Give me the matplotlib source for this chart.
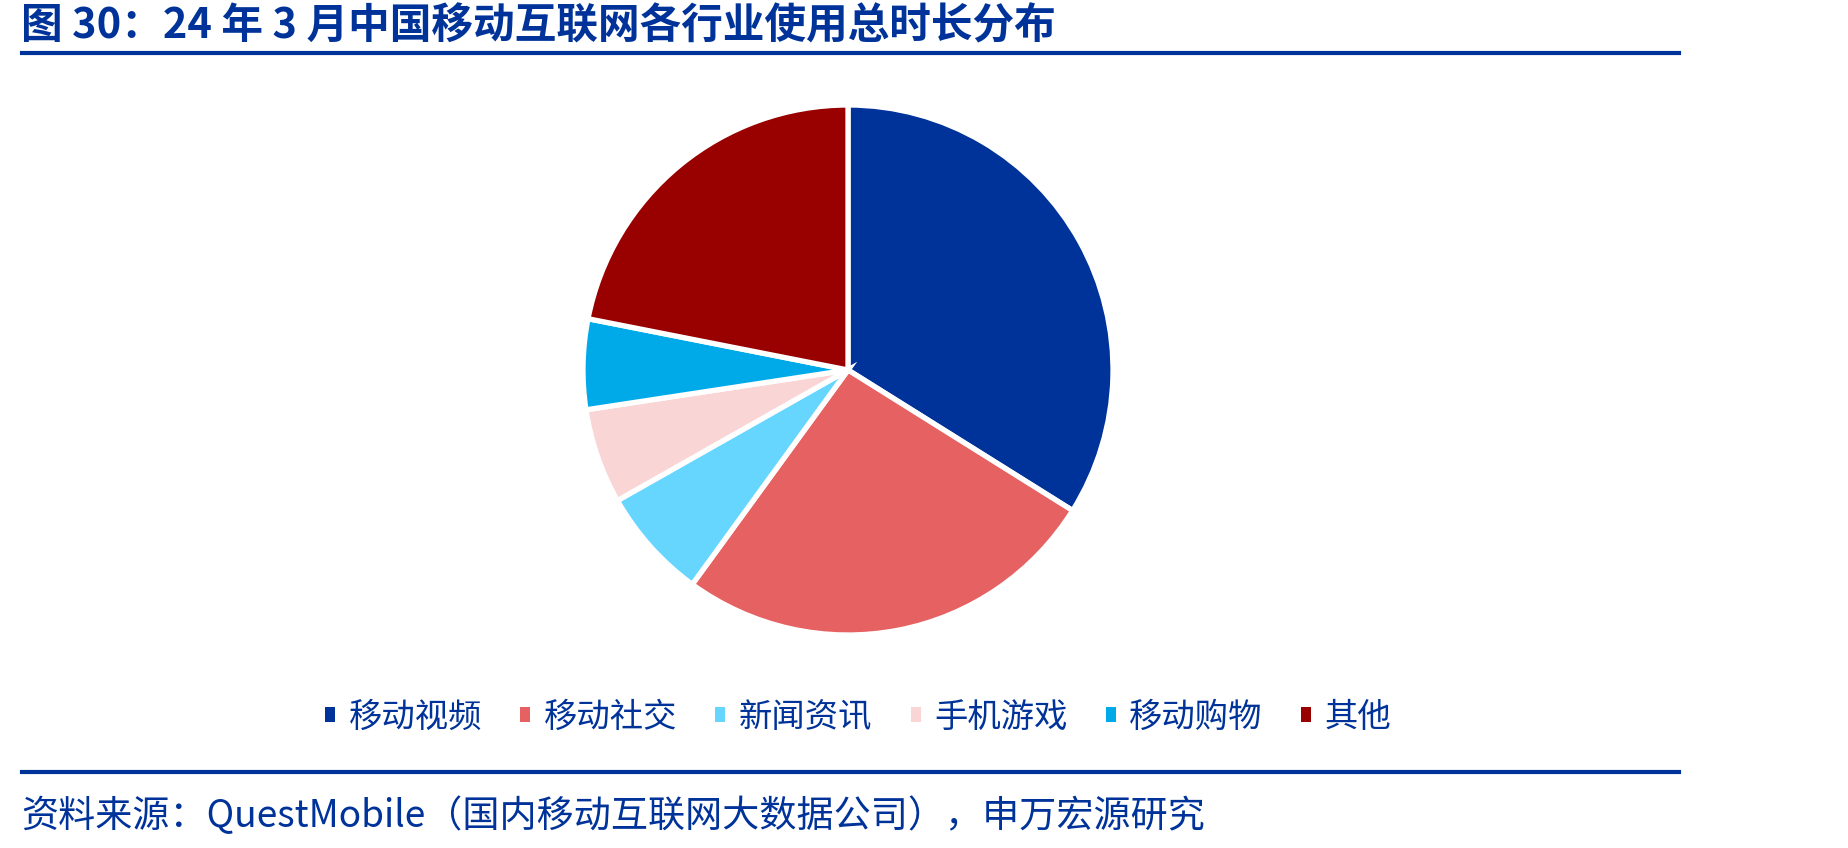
import matplotlib
matplotlib.use("Agg")
import matplotlib.pyplot as plt
from matplotlib.patches import Patch
from matplotlib.lines import Line2D

plt.rcParams['font.family'] = ['Noto Sans CJK SC', 'DejaVu Sans']

# data (share of total usage time, %)
categories = ['移动视频', '移动社交', '新闻资讯', '手机游戏', '移动购物', '其他']
shares = [33.9, 26.1, 6.8, 5.8, 5.5, 21.9]
colors = ['#003399', '#E66262', '#66D6FF', '#F9D5D6', '#00AAE9', '#990000']

title = '图 30：24 年 3 月中国移动互联网各行业使用总时长分布'
source = '资料来源：QuestMobile（国内移动互联网大数据公司），申万宏源研究'
blue = '#003399'

W, H = 1849, 848
fig = plt.figure(figsize=(W / 100, H / 100), dpi=100)

# pie: centre (848, 370) px, radius 265 px
cx, cy, r = 848, 370, 265
ax = fig.add_axes([(cx - r) / W, 1 - (cy + r) / H, 2 * r / W, 2 * r / H])
ax.pie(shares, colors=colors, startangle=90, counterclock=False,
       radius=1, wedgeprops=dict(edgecolor='white', linewidth=3.8))
ax.set_xlim(-1, 1)
ax.set_ylim(-1, 1)
ax.set_aspect('equal')
ax.axis('off')

# title and rules
fig.text(21 / W, 1 - 26 / H, title, fontsize=30, fontweight='bold',
         color=blue, va='center', ha='left')
fig.add_artist(Line2D([22 / W, 1679 / W], [1 - 53 / H] * 2, color=blue, lw=3))
fig.add_artist(Line2D([22 / W, 1679 / W], [1 - 772 / H] * 2, color=blue, lw=3))

# legend
handles = [Patch(facecolor=c, edgecolor='none') for c in colors]
leg = fig.legend(handles, categories, loc='center', ncol=6,
                 bbox_to_anchor=(858 / W, 1 - 717 / H), frameon=False,
                 fontsize=24, handlelength=0.3, handleheight=0.3,
                 handletextpad=0.4, columnspacing=1.15)
for t in leg.get_texts():
    t.set_color(blue)

# source note
fig.text(21 / W, 1 - 817 / H, source, fontsize=26.7, color=blue,
         va='center', ha='left')

fig.savefig('out.png', dpi=100)
